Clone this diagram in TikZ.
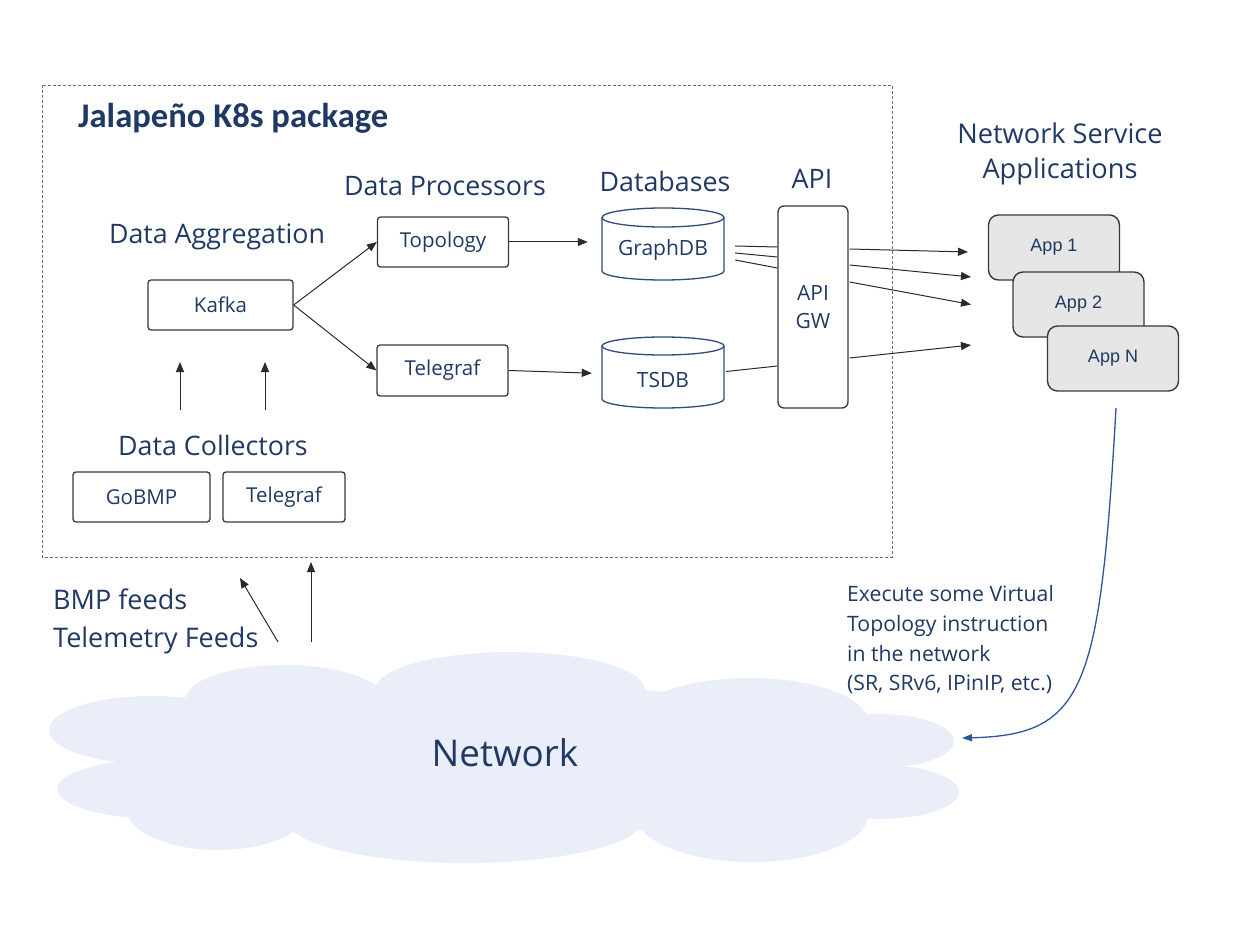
\documentclass[tikz,border=0pt]{standalone}
\usepackage{fontspec}
\setmainfont{Open Sans}
\newfontfamily\titlefont{Carlito}
\newfontfamily\appfont{Liberation Sans}
\usetikzlibrary{arrows.meta}
\definecolor{navy}{HTML}{1F3864}
\definecolor{boxc}{HTML}{333A40}
\definecolor{cylc}{HTML}{2F4B7C}
\definecolor{arrc}{HTML}{262B33}
\definecolor{cloudc}{HTML}{E9EEF8}
\definecolor{appfill}{HTML}{E6E6E6}
\definecolor{curvec}{HTML}{2F5597}
\definecolor{dashc}{HTML}{707070}
\begin{document}
\begin{tikzpicture}[x=1pt,y=-1pt,
  box/.style={draw=boxc, line width=1.3pt, rounded corners=3pt, text=navy,
    font=\fontsize{20.5}{24}\selectfont, inner sep=0pt},
  lbl/.style={text=navy, font=\fontsize{26.8}{32}\selectfont, inner sep=0pt},
  dblbl/.style={text=navy, font=\fontsize{21}{24}\selectfont, inner sep=0pt},
  cylout/.style={draw=cylc, line width=1.3pt},
  cylbody/.style={minimum width=122pt, inner sep=0pt},
  arr/.style={draw=arrc, line width=1pt, -{Triangle[length=10pt,width=8pt]}},
  plain/.style={draw=arrc, line width=1pt},
  appbox/.style={draw=boxc, line width=1.4pt, fill=appfill, rounded corners=10pt,
    minimum width=131pt, minimum height=65pt, text=navy,
    font=\appfont\fontsize{18}{21}\selectfont, inner sep=0pt},
  lobe/.style={fill=cloudc, draw=none}
]
\useasboundingbox (0,0) rectangle (1248,936);

% dashed package frame
\draw[draw=dashc, line width=0.8pt, dash pattern=on 3pt off 2pt] (42,85) rectangle (892,557);

% ---------- cloud ----------
\fill[lobe] (285,700) ellipse[x radius=100, y radius=35];
\fill[lobe] (510,690) ellipse[x radius=135, y radius=38];
\fill[lobe] (750,722) ellipse[x radius=118, y radius=44];
\fill[lobe] (878,741) ellipse[x radius=76, y radius=27];
\fill[lobe] (880,792) ellipse[x radius=79, y radius=27];
\fill[lobe] (752,815) ellipse[x radius=116, y radius=47];
\fill[lobe] (465,820) ellipse[x radius=178, y radius=43];
\fill[lobe] (218,808) ellipse[x radius=92, y radius=42];
\fill[lobe] (152,730) ellipse[x radius=103, y radius=34];
\fill[lobe] (162,789) ellipse[x radius=105, y radius=30];
\fill[lobe] (505,760) ellipse[x radius=380, y radius=75];
\node[lbl, font=\fontsize{36.8}{42}\selectfont] (net) at (505,753) {Network};

% ---------- titles ----------
\node[text=navy, font=\titlefont\bfseries\fontsize{34.6}{38}\selectfont, anchor=west, inner sep=0pt] (title) at (78,118) {Jalapeño K8s package};
\node[lbl] (lagg) at (217,237) {Data Aggregation};
\node[lbl] (lproc) at (445,186) {Data Processors};
\node[lbl] (ldb) at (665,181) {Databases};
\node[lbl] (lapi) at (812,179) {API};
\node[lbl, align=center, font=\fontsize{27.2}{35}\selectfont] (lnsa) at (1060,154) {Network Service\\Applications};
\node[lbl] (lcoll) at (213,445) {Data Collectors};
\node[lbl, align=left, anchor=west, font=\fontsize{27}{38}\selectfont] (lfeeds) at (53,621) {BMP feeds\\Telemetry Feeds};
\node[lbl, align=left, anchor=west, font=\fontsize{21.2}{29.6}\selectfont] (lexec) at (847,640)
  {Execute some Virtual\\Topology instruction\\in the network\\(SR, SRv6, IPinIP, etc.)};

% ---------- boxes ----------
\node[box, minimum width=145pt, minimum height=50pt] (kafka) at (220.5,305) {Kafka};
\node[box, minimum width=131pt, minimum height=50pt] (topo) at (443,242) {Topology};
\node[box, minimum width=131pt, minimum height=51pt] (tproc) at (442.5,370.5) {Telegraf};
\node[box, minimum width=137pt, minimum height=50pt] (gobmp) at (141.5,497) {GoBMP};
\node[box, minimum width=122pt, minimum height=50pt] (tcoll) at (284,497) {Telegraf};
\node[box, rounded corners=6pt, minimum width=70pt, minimum height=202pt, align=center,
  font=\fontsize{21}{28}\selectfont] (api) at (813,307) {API\\GW};

% ---------- cylinders ----------
\node[cylbody, minimum height=72pt] (gdb) at (663,244) {};
\draw[cylout] (602,217.5) -- (602,271) arc[start angle=180, end angle=0, x radius=61, y radius=9] -- (724,217.5);
\draw[cylout] (663,217.5) ellipse[x radius=61, y radius=9.5];
\node[dblbl] (gdbl) at (663,250) {GraphDB};
\node[cylbody, minimum height=71pt] (tsdb) at (663,372.5) {};
\draw[cylout] (602,346) -- (602,399) arc[start angle=180, end angle=0, x radius=61, y radius=9] -- (724,346);
\draw[cylout] (663,346) ellipse[x radius=61, y radius=9];
\node[dblbl] (tsdbl) at (663,380) {TSDB};

% ---------- apps ----------
\node[appbox] (app1) at (1054,247.5) {App 1};
\node[appbox] (app2) at (1078.5,304.5) {App 2};
\node[appbox] (appn) at (1113,358.5) {App N};

% ---------- free end coordinates ----------
\coordinate (c1a) at (180,410); \coordinate (c1b) at (180,362);
\coordinate (c2a) at (265,410); \coordinate (c2b) at (265,362);
\coordinate (f1a) at (278,642); \coordinate (f1b) at (240,578);
\coordinate (f2a) at (311,642); \coordinate (f2b) at (311,562);
\coordinate (e1) at (968,252);
\coordinate (e2) at (971,277);
\coordinate (e3) at (971,304.5);
\coordinate (e4) at (971,345);
\coordinate (cs) at (1116,408);
\coordinate (ce) at (962,738);

% ---------- connectors ----------
\draw[arr] (kafka.east) -- (topo.west);
\draw[arr] (kafka.east) -- (tproc.west);
\draw[arr, shorten >=14pt] (topo.east) -- (gdb.west |- topo.east);
\draw[arr, shorten >=10pt] (tproc.east) -- ([shift={(0,1)}]tsdb.west);
\draw[plain] ([shift={(11,2)}]gdb.east) -- ([shift={(0,-60)}]api.west);
\draw[plain] ([shift={(11,9)}]gdb.east) -- ([shift={(0,-50)}]api.west);
\draw[plain] ([shift={(11,16)}]gdb.east) -- ([shift={(0,-39)}]api.west);
\draw[plain] ([shift={(2,-1)}]tsdb.east) -- ([shift={(0,59)}]api.west);
\draw[arr] ([shift={(1,-58)}]api.east) -- (e1);
\draw[arr] ([shift={(1,-42)}]api.east) -- (e2);
\draw[arr] ([shift={(1,-25)}]api.east) -- (e3);
\draw[arr] ([shift={(1,51)}]api.east) -- (e4);
\draw[arr] (c1a) -- (c1b);
\draw[arr] (c2a) -- (c2b);
\draw[arr] (f1a) -- (f1b);
\draw[arr] (f2a) -- (f2b);
\draw[draw=curvec, line width=1.3pt, -{Triangle[length=10pt,width=7pt]}]
  (cs) .. controls (1100,690) and (1085,735) .. (ce);
\end{tikzpicture}
\end{document}
